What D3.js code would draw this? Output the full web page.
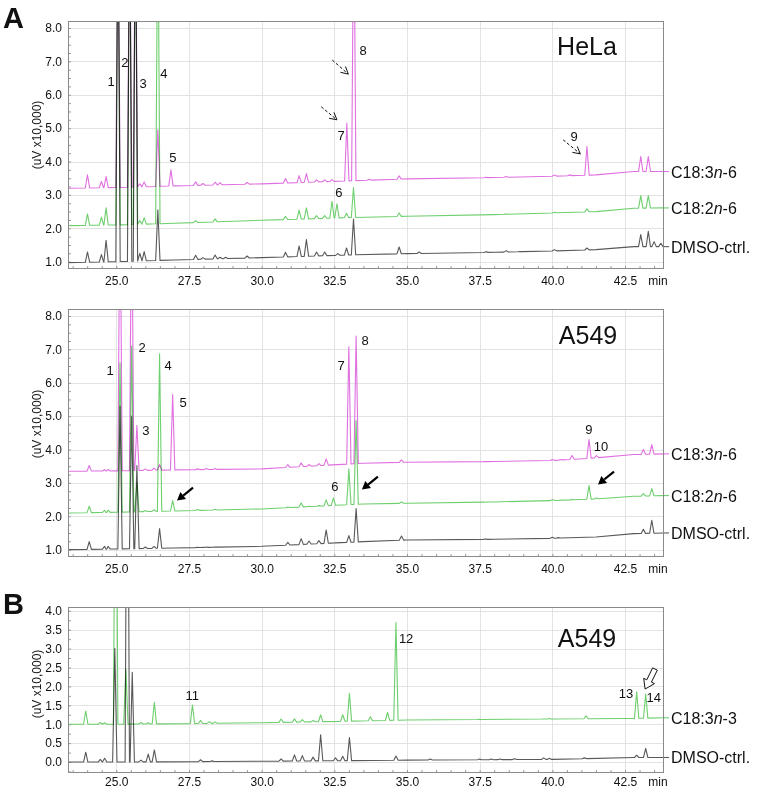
<!DOCTYPE html>
<html><head><meta charset="utf-8">
<script src="https://cdn.jsdelivr.net/npm/d3@7/dist/d3.min.js"></script>
<style>
body{margin:0;background:#fff}
svg{display:block}
text{font-family:Arial,"Liberation Sans",sans-serif;fill:#111}
</style></head>
<body><svg id="chart" width="758" height="790"></svg>
<script>
// ---------------- DATA ----------------
const timeDomain = [23.34, 43.84];
const xTicks = [25.0, 27.5, 30.0, 32.5, 35.0, 37.5, 40.0, 42.5];
const yTicksA = [1.0, 2.0, 3.0, 4.0, 5.0, 6.0, 7.0, 8.0];
const yTicksB = [0.0, 0.5, 1.0, 1.5, 2.0, 2.5, 3.0, 3.5, 4.0];
const yDomainA = [0.78, 8.21];
const yDomainB = [-0.29, 4.1];
const yAxisTitle = "(uV x10,000)";

// Panel A (HeLa) — baselines [min, value] and peak apexes [min, value]
const helaDmsoBase = [[23.34,0.97],[25,1.0],[27,1.05],[30,1.12],[33,1.2],[35,1.24],[38,1.28],[40,1.32],[41.5,1.36],[42.8,1.45],[43.84,1.45]];
const helaDmsoPeaks = [[24.01,1.29],[24.49,1.21],[24.65,1.64],[25.06,12],[25.46,12],[25.66,12],[25.81,1.25],[25.96,1.30],[26.43,2.55],[27.73,1.19],[27.98,1.12],[28.40,1.20],[28.57,1.13],[28.76,1.13],[29.50,1.17],[30.82,1.28],[31.29,1.47],[31.54,1.66],[31.89,1.29],[32.17,1.29],[32.62,1.24],[32.92,1.41],[33.16,2.28],[34.73,1.44],[35.42,1.29],[37.72,1.30],[38.41,1.33],[38.89,1.30],[40.07,1.36],[41.19,1.41],[43.04,1.81],[43.30,1.91],[43.50,1.60],[43.73,1.55]];
const helaLaBase = [[23.34,2.08],[25,2.1],[27,2.15],[30,2.24],[33,2.32],[35,2.36],[38,2.41],[40,2.46],[41.5,2.5],[42.8,2.6],[43.84,2.61]];
const helaLaPeaks = [[24.01,2.43],[24.49,2.33],[24.65,2.61],[25.06,12],[25.46,12],[25.66,12],[25.81,2.23],[25.96,2.32],[26.43,12],[27.73,2.23],[28.40,2.28],[30.82,2.36],[31.29,2.54],[31.54,2.61],[31.89,2.38],[32.17,2.38],[32.42,2.81],[32.59,2.73],[32.92,2.45],[33.16,3.22],[34.73,2.46],[38.41,2.43],[40.07,2.48],[41.19,2.58],[43.04,2.98],[43.30,2.98]];
const helaGlaBase = [[23.34,3.2],[25,3.22],[27,3.27],[30,3.33],[33,3.42],[35,3.48],[38,3.52],[40,3.56],[41.5,3.6],[42.8,3.7],[43.84,3.7]];
const helaGlaPeaks = [[24.01,3.60],[24.49,3.40],[24.65,3.55],[25.06,12],[25.46,12],[25.66,12],[25.81,3.33],[25.96,3.39],[26.43,4.95],[26.88,3.75],[27.73,3.39],[27.98,3.34],[28.40,3.38],[28.57,3.37],[29.50,3.37],[30.82,3.49],[31.29,3.58],[31.54,3.64],[31.89,3.45],[32.17,3.45],[32.42,3.46],[32.93,5.15],[33.17,12],[33.70,3.47],[34.73,3.57],[37.72,3.53],[38.41,3.55],[40.07,3.60],[40.60,3.60],[41.19,4.45],[43.04,4.15],[43.30,4.15]];

// Panel A (A549)
const a549DmsoBase = [[23.34,1.0],[25,1.02],[27,1.05],[30,1.1],[33.5,1.24],[35,1.29],[38,1.31],[40,1.34],[41.5,1.38],[42.8,1.48],[43.84,1.5]];
const a549DmsoPeaks = [[24.07,1.24],[24.60,1.10],[24.72,1.10],[25.13,5.3],[25.53,5.0],[25.71,3.52],[26.00,1.08],[26.30,1.10],[26.49,1.63],[27.80,1.07],[28.10,1.08],[28.40,1.08],[30.90,1.22],[31.36,1.33],[31.63,1.26],[31.97,1.27],[32.22,1.59],[32.47,1.20],[33.00,1.42],[33.25,2.23],[34.81,1.41],[37.70,1.32],[40.00,1.37],[40.20,1.36],[43.13,1.61],[43.42,1.88]];
const a549LaBase = [[23.34,2.1],[25,2.12],[27,2.16],[30,2.22],[33.5,2.37],[35,2.39],[38,2.43],[40,2.47],[41.5,2.52],[42.8,2.6],[43.84,2.62]];
const a549LaPeaks = [[24.07,2.30],[24.60,2.18],[24.72,2.18],[25.13,6.6],[25.53,7.1],[25.71,3.02],[26.00,2.17],[26.30,2.20],[26.49,6.87],[26.94,2.47],[27.80,2.20],[28.40,2.21],[30.90,2.28],[31.36,2.40],[31.63,2.30],[31.97,2.32],[32.22,2.49],[32.47,2.55],[33.00,3.42],[33.25,4.87],[34.81,2.43],[37.70,2.42],[40.00,2.50],[40.30,2.49],[40.68,2.50],[41.26,2.92],[41.52,2.55],[43.13,2.68],[43.42,2.83]];
const a549GlaBase = [[23.34,3.35],[25,3.36],[27,3.39],[30,3.42],[33.5,3.59],[35,3.62],[38,3.64],[40,3.67],[41.5,3.75],[42.8,3.85],[43.84,3.87]];
const a549GlaPeaks = [[24.07,3.52],[24.60,3.40],[24.72,3.40],[25.13,12],[25.53,12],[25.71,4.72],[26.00,3.42],[26.30,3.44],[26.49,3.55],[26.94,5.65],[27.80,3.42],[28.10,3.43],[28.40,3.43],[30.90,3.55],[31.36,3.60],[31.63,3.55],[31.97,3.58],[32.22,3.72],[33.00,7.08],[33.25,7.4],[34.81,3.69],[37.70,3.64],[40.00,3.70],[40.30,3.70],[40.68,3.82],[41.26,4.30],[41.52,3.82],[43.13,4.00],[43.42,4.15]];

// Panel B (A549, n-3)
const bDmsoBase = [[23.34,0.0],[25,0.0],[30,0.02],[35,0.05],[40,0.07],[42.8,0.12],[43.84,0.12]];
const bDmsoPeaks = [[23.95,0.26],[24.45,0.07],[24.60,0.10],[24.95,3.01],[25.38,12],[25.55,2.37],[25.85,0.05],[26.10,0.21],[26.31,0.32],[27.90,0.06],[28.30,0.03],[30.67,0.08],[31.13,0.19],[31.40,0.17],[31.77,0.13],[32.03,0.72],[32.54,0.11],[32.79,0.15],[33.02,0.65],[34.62,0.16],[35.80,0.08],[37.50,0.08],[37.90,0.08],[38.20,0.08],[38.70,0.09],[39.70,0.11],[39.90,0.10],[41.10,0.11],[42.90,0.18],[43.21,0.36]];
const bAlaBase = [[23.34,1.0],[25,1.0],[28,1.02],[30,1.04],[33,1.08],[35,1.11],[40,1.14],[42.5,1.15],[43.84,1.17]];
const bAlaPeaks = [[23.95,1.35],[24.45,1.05],[24.60,1.04],[24.98,12],[25.33,2.45],[25.85,1.05],[26.10,1.04],[26.31,1.58],[27.62,1.51],[27.90,1.10],[28.20,1.07],[28.40,1.06],[30.67,1.14],[31.13,1.14],[31.40,1.12],[31.77,1.10],[32.03,1.25],[32.79,1.25],[33.02,1.82],[33.74,1.20],[34.33,1.31],[34.62,3.69],[37.50,1.13],[39.70,1.14],[39.90,1.15],[41.16,1.22],[42.90,1.86],[43.21,1.80]];

// Peak number labels [min, value, text]
const helaPeakLabels = [[24.82,6.41,"1"],[25.30,6.98,"2"],[25.92,6.35,"3"],[26.64,6.65,"4"],[26.95,4.11,"5"],[32.66,3.06,"6"],[32.73,4.77,"7"],[33.49,7.34,"8"],[40.75,4.74,"9"]];
const a549PeakLabels = [[24.79,6.38,"1"],[25.89,7.07,"2"],[26.02,4.57,"3"],[26.78,6.53,"4"],[27.30,5.41,"5"],[32.52,2.89,"6"],[32.73,6.53,"7"],[33.56,7.28,"8"],[41.26,4.60,"9"],[41.67,4.09,"10"]];
const bPeakLabels = [[27.61,1.77,"11"],[34.97,3.28,"12"],[42.53,1.80,"13"],[43.49,1.70,"14"]];

// Arrows [fromMin, fromVal, toMin, toVal]
const helaArrows = [[32.43,7.04,32.98,6.62],[32.05,5.64,32.59,5.25],[40.37,4.65,40.96,4.23]];
const a549Arrows = [[27.64,2.86,27.09,2.47],[34.00,3.19,33.45,2.80],[42.12,3.34,41.57,2.95]];
const bArrows = [[43.53,2.46,43.19,1.93]];

// Series names
const seriesGLA = ["C18:3", "n", "-6"];
const seriesLA = ["C18:2", "n", "-6"];
const seriesALA = ["C18:3", "n", "-3"];
const seriesDMSO = ["DMSO-ctrl.", "", ""];

// ---------------- STYLE / LAYOUT ----------------
const COLORS = {gla:"#e070e0", la:"#6ecf6e", dmso:"#595959", ala:"#6ecf6e"};
const HW = 0.075; // peak half width (min)

const svg = d3.select("#chart");
const defs = svg.append("defs");

function tracePoints(base, peaks){
  const bs = d3.scaleLinear().domain(base.map(d=>d[0])).range(base.map(d=>d[1]));
  const pts = [];
  base.forEach(d=>{ if(!peaks.some(p=>Math.abs(p[0]-d[0])<=HW)) pts.push(d); });
  peaks.forEach(p=>{
    pts.push([p[0]-HW, bs(p[0]-HW)], [p[0], p[1]], [p[0]+HW, bs(p[0]+HW)]);
  });
  pts.sort((a,b)=>a[0]-b[0]);
  return pts;
}

function drawPanel(cfg, idx){
  const g = svg.append("g");
  const x = d3.scaleLinear().domain(timeDomain).range([cfg.left, cfg.right]);
  const y = d3.scaleLinear().domain(cfg.yDomain).range([cfg.bottom, cfg.top]);

  // grid
  g.append("g").selectAll("line").data(cfg.yTicks).join("line")
    .attr("x1", cfg.left).attr("x2", cfg.right)
    .attr("y1", d=>Math.round(y(d))+0.5).attr("y2", d=>Math.round(y(d))+0.5)
    .attr("stroke", "#e3e3e3").attr("stroke-width", 1);
  g.append("g").selectAll("line").data(xTicks).join("line")
    .attr("y1", cfg.top).attr("y2", cfg.bottom)
    .attr("x1", d=>Math.round(x(d))+0.5).attr("x2", d=>Math.round(x(d))+0.5)
    .attr("stroke", "#e3e3e3").attr("stroke-width", 1);

  // minor ticks
  const xMinor = d3.range(23.5, 43.84, 0.5);
  g.append("g").attr("transform", `translate(0,${cfg.bottom})`)
    .call(d3.axisBottom(x).tickValues(xMinor).tickSize(-3).tickFormat(""))
    .call(s=>s.select(".domain").remove())
    .call(s=>s.selectAll("line").attr("stroke", "#999"));
  const yMinor = d3.range(Math.ceil(cfg.yDomain[0]*4)/4, cfg.yDomain[1], 0.25);
  g.append("g").attr("transform", `translate(${cfg.left},0)`)
    .call(d3.axisLeft(y).tickValues(yMinor).tickSize(-3).tickFormat(""))
    .call(s=>s.select(".domain").remove())
    .call(s=>s.selectAll("line").attr("stroke", "#999"));

  // traces
  const clipId = "clip" + idx;
  defs.append("clipPath").attr("id", clipId).append("rect")
    .attr("x", cfg.left).attr("y", cfg.top)
    .attr("width", cfg.right-cfg.left).attr("height", cfg.bottom-cfg.top);
  const line = d3.line().x(d=>x(d[0])).y(d=>y(d[1]));
  const tg = g.append("g").attr("clip-path", `url(#${clipId})`).style("isolation","isolate");
  cfg.series.forEach(s=>{
    tg.append("path").datum(tracePoints(s.base, s.peaks))
      .attr("d", line).attr("fill", "none")
      .attr("stroke", s.color).attr("stroke-width", 1.1)
      .attr("stroke-linejoin", "round")
      .style("mix-blend-mode", "multiply");
  });

  // frame
  g.append("rect").attr("x", cfg.left+0.5).attr("y", cfg.top+0.5)
    .attr("width", cfg.right-cfg.left-1).attr("height", cfg.bottom-cfg.top-1)
    .attr("fill", "none").attr("stroke", "#8a8a8a").attr("stroke-width", 1);

  // axes labels
  g.append("g").attr("transform", `translate(${cfg.left},0)`)
    .call(d3.axisLeft(y).tickValues(cfg.yTicks).tickSize(0).tickPadding(6).tickFormat(d3.format(".1f")))
    .call(s=>s.select(".domain").remove())
    .call(s=>s.selectAll("text").attr("font-size", 12).attr("fill", "#222")
       .attr("font-family", "Arial, 'Liberation Sans', sans-serif"));
  g.append("g").attr("transform", `translate(0,${cfg.bottom})`)
    .call(d3.axisBottom(x).tickValues(xTicks).tickSize(0).tickPadding(cfg.xPad).tickFormat(d3.format(".1f")))
    .call(s=>s.select(".domain").remove())
    .call(s=>s.selectAll("text").attr("font-size", 12).attr("fill", "#222")
       .attr("font-family", "Arial, 'Liberation Sans', sans-serif"));
  g.append("text").attr("x", 658).attr("y", cfg.bottom+cfg.xPad).attr("dy", "0.71em")
    .attr("text-anchor", "middle").attr("font-size", 12).attr("fill", "#222").text("min");

  // y title
  g.append("text").attr("transform", `translate(37,${cfg.yTitleY}) rotate(-90)`)
    .attr("text-anchor", "middle").attr("dominant-baseline", "central")
    .attr("font-size", 12).attr("fill", "#222").text(yAxisTitle);

  // series labels
  cfg.series.forEach(s=>{
    const last = s.base[s.base.length-1];
    const yy = y(last[1]);
    g.append("line").attr("x1", cfg.right).attr("x2", cfg.right+5)
      .attr("y1", yy).attr("y2", yy).attr("stroke", s.color).attr("stroke-width", 1.1);
    const t = g.append("text").attr("x", cfg.right+7).attr("y", yy)
      .attr("dominant-baseline", "central").attr("font-size", 16);
    t.append("tspan").text(s.name[0]);
    if (s.name[1]) t.append("tspan").attr("font-style", "italic").text(s.name[1]);
    if (s.name[2]) t.append("tspan").text(s.name[2]);
  });

  // peak labels
  g.append("g").selectAll("text").data(cfg.peakLabels).join("text")
    .attr("x", d=>x(d[0])).attr("y", d=>y(d[1]))
    .attr("text-anchor", "middle").attr("dominant-baseline", "central")
    .attr("font-size", 13).text(d=>d[2]);

  // panel title
  g.append("text").attr("x", cfg.titleX).attr("y", cfg.titleY)
    .attr("text-anchor", "middle").attr("font-size", 25).text(cfg.title);

  // panel letter
  if (cfg.letter) {
    g.append("text").attr("x", 3).attr("y", cfg.letterY)
      .attr("font-size", 29).attr("font-weight", "bold").attr("fill", "#000").text(cfg.letter);
  }

  // arrows
  cfg.arrows.forEach(a=>{
    const x1 = x(a[0]), y1 = y(a[1]), x2 = x(a[2]), y2 = y(a[3]);
    const ang = Math.atan2(y2-y1, x2-x1);
    if (cfg.arrowStyle === "dashed") {
      g.append("line").attr("x1", x1).attr("y1", y1).attr("x2", x2).attr("y2", y2)
        .attr("stroke", "#111").attr("stroke-width", 1).attr("stroke-dasharray", "3,2");
      const L = 8, sp = 0.5;
      [ang+Math.PI-sp, ang+Math.PI+sp].forEach(b=>{
        g.append("line").attr("x1", x2).attr("y1", y2)
          .attr("x2", x2+L*Math.cos(b)).attr("y2", y2+L*Math.sin(b))
          .attr("stroke", "#111").attr("stroke-width", 1);
      });
    } else if (cfg.arrowStyle === "solid") {
      const L = 8, W = 4.5;
      const bx = x2 - L*Math.cos(ang), by = y2 - L*Math.sin(ang);
      g.append("line").attr("x1", x1).attr("y1", y1).attr("x2", bx).attr("y2", by)
        .attr("stroke", "#000").attr("stroke-width", 2.2);
      const nx = -Math.sin(ang), ny = Math.cos(ang);
      g.append("path").attr("d", `M${x2},${y2}L${bx+W*nx},${by+W*ny}L${bx-W*nx},${by-W*ny}Z`)
        .attr("fill", "#000");
    } else {
      // hollow block arrow
      const len = Math.hypot(x2-x1, y2-y1);
      const hl = 9, hw = 6, sw = 2.6;
      const pts = [[0,-sw],[len-hl,-sw],[len-hl,-hw],[len,0],[len-hl,hw],[len-hl,sw],[0,sw]];
      const c = Math.cos(ang), s = Math.sin(ang);
      const d = "M" + pts.map(p=>[x1 + p[0]*c - p[1]*s, y1 + p[0]*s + p[1]*c].join(",")).join("L") + "Z";
      g.append("path").attr("d", d).attr("fill", "#fff").attr("stroke", "#111").attr("stroke-width", 1);
    }
  });
}

const panels = [
  {left:68, right:664, top:21, bottom:269, yDomain:yDomainA, yTicks:yTicksA, yTitleY:135, xPad:7,
   title:"HeLa", titleX:587, titleY:55, letter:"A", letterY:28,
   series:[
     {base:helaDmsoBase, peaks:helaDmsoPeaks, color:COLORS.dmso, name:seriesDMSO},
     {base:helaLaBase, peaks:helaLaPeaks, color:COLORS.la, name:seriesLA},
     {base:helaGlaBase, peaks:helaGlaPeaks, color:COLORS.gla, name:seriesGLA}],
   peakLabels:helaPeakLabels, arrows:helaArrows, arrowStyle:"dashed"},
  {left:68, right:664, top:309, bottom:557, yDomain:yDomainA, yTicks:yTicksA, yTitleY:424, xPad:7,
   title:"A549", titleX:588, titleY:344, letter:null,
   series:[
     {base:a549DmsoBase, peaks:a549DmsoPeaks, color:COLORS.dmso, name:seriesDMSO},
     {base:a549LaBase, peaks:a549LaPeaks, color:COLORS.la, name:seriesLA},
     {base:a549GlaBase, peaks:a549GlaPeaks, color:COLORS.gla, name:seriesGLA}],
   peakLabels:a549PeakLabels, arrows:a549Arrows, arrowStyle:"solid"},
  {left:68, right:664, top:607, bottom:773, yDomain:yDomainB, yTicks:yTicksB, yTitleY:684, xPad:4,
   title:"A549", titleX:587, titleY:647, letter:"B", letterY:614,
   series:[
     {base:bDmsoBase, peaks:bDmsoPeaks, color:COLORS.dmso, name:seriesDMSO},
     {base:bAlaBase, peaks:bAlaPeaks, color:COLORS.ala, name:seriesALA}],
   peakLabels:bPeakLabels, arrows:bArrows, arrowStyle:"hollow"}
];
panels.forEach((p,i)=>drawPanel(p,i));
</script>
</body></html>
